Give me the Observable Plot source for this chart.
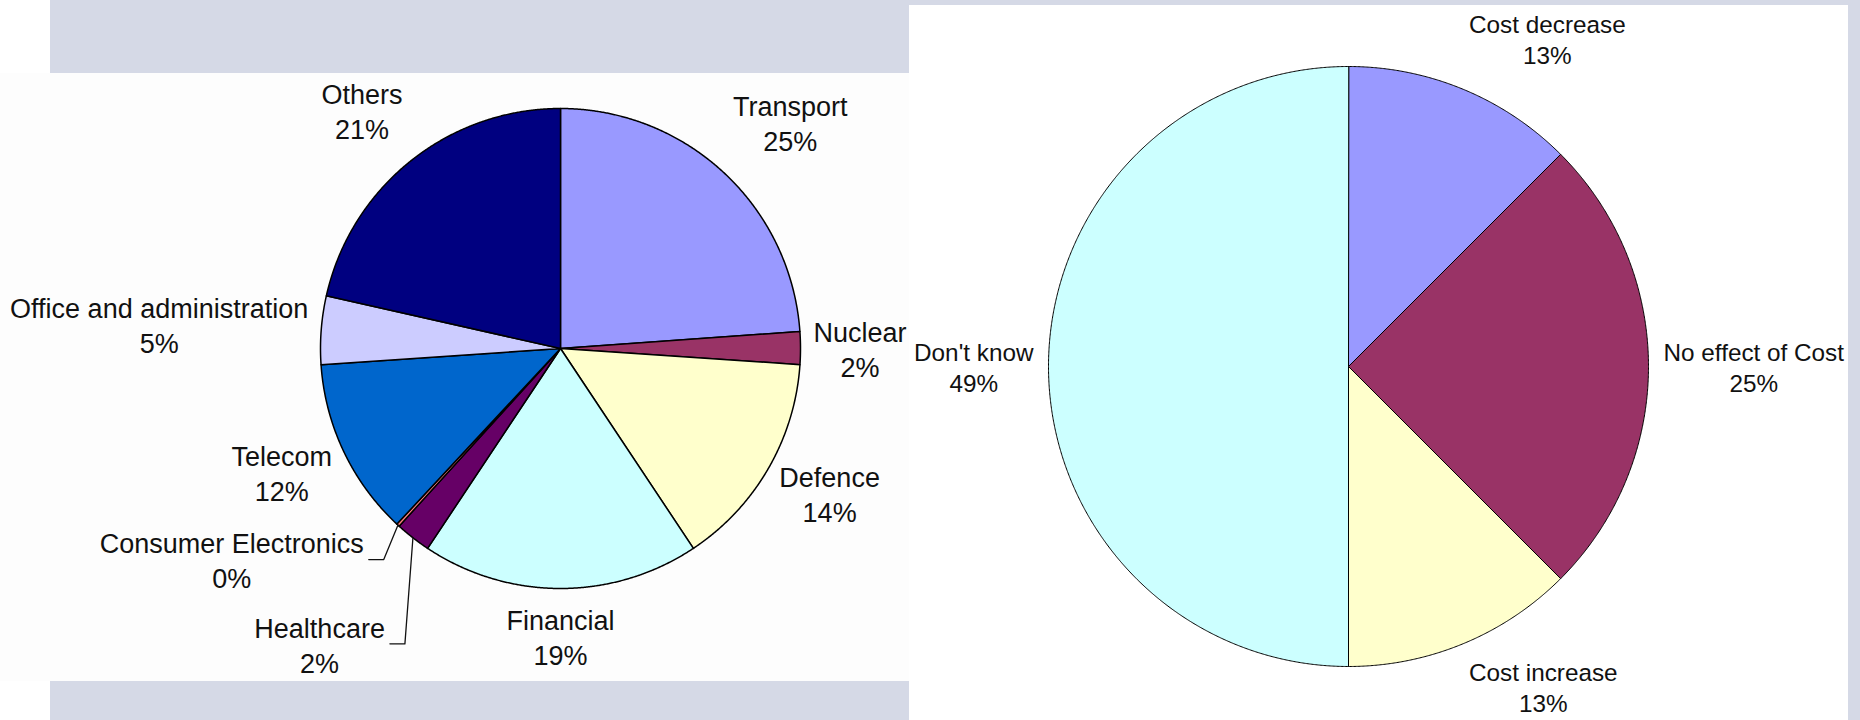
<!DOCTYPE html>
<html>
<head>
<meta charset="utf-8">
<script src="https://cdn.jsdelivr.net/npm/d3@7"></script>
<script src="https://cdn.jsdelivr.net/npm/@observablehq/plot@0.6"></script>
<style>
  html, body { margin: 0; padding: 0; background: #fff; }
  #page { position: relative; width: 1860px; height: 720px; overflow: hidden; background: #fff; }
  #band { position: absolute; left: 50px; top: 0; width: 1810px; height: 720px; background: #d5d9e6; }
  #left { position: absolute; left: 0; top: 73px; width: 909px; height: 608px; background: #fdfdfd; }
  #right { position: absolute; left: 909px; top: 5px; width: 939px; height: 715px; background: #fff; }
  #left svg, #right svg { position: absolute; left: 0; top: 0; }
</style>
</head>
<body>
<div id="page">
  <div id="band"></div>
  <div id="left"></div>
  <div id="right"></div>
</div>
<script>
// ---------- data: sectors (left pie) ----------
const sectorNames = ["Transport", "Nuclear", "Defence", "Financial", "Healthcare",
  "Consumer Electronics", "Telecom", "Office and administration", "Others"];
const sectorShares = [23.9, 2.2, 14.6, 18.7, 2.4, 0.2, 12.0, 4.6, 21.5];
const sectorPercentLabels = ["25%", "2%", "14%", "19%", "2%", "0%", "12%", "5%", "21%"];
const sectorColors = ["#9999ff", "#993366", "#ffffcc", "#ccffff", "#660066",
  "#ff8080", "#0066cc", "#ccccff", "#000080"];

// ---------- data: cost effect (right pie) ----------
const costNames = ["Cost decrease", "No effect of Cost", "Cost increase", "Don't know"];
const costShares = [12.5, 25, 12.5, 50];
const costPercentLabels = ["13%", "25%", "13%", "49%"];
const costColors = ["#9999ff", "#993366", "#ffffcc", "#ccffff"];

// ---------- layout (not data) ----------
const FONT = "'Liberation Sans', Arial, sans-serif";
// labels that were dragged away from the pie and carry a leader line (polar: degrees clockwise from 12 o'clock, distance in radii)
const draggedLabels = {
  "Consumer Electronics": {angle: 237.3, dist: 1.628},
  "Healthcare": {angle: 219.2, dist: 1.588}
};

const canvas = document.createElement("canvas");
const ctx = canvas.getContext("2d");
function textWidth(str, size) {
  ctx.font = `${size}px "Liberation Sans", Arial, sans-serif`;
  return ctx.measureText(str).width;
}

function pieSlices(names, shares) {
  const total = d3.sum(shares);
  let acc = 0;
  return names.map((name, i) => {
    const a0 = acc / total * 2 * Math.PI;
    acc += shares[i];
    const a1 = acc / total * 2 * Math.PI;
    return {name, i, a0, a1, mid: (a0 + a1) / 2};
  });
}

function slicePolygon(s) {
  const pts = [{name: s.name, x: 0, y: 0}];
  const n = Math.max(2, Math.ceil((s.a1 - s.a0) / (Math.PI / 720)));
  for (let k = 0; k <= n; k++) {
    const a = s.a0 + (s.a1 - s.a0) * k / n;
    pts.push({name: s.name, x: Math.sin(a), y: Math.cos(a)});
  }
  return pts;
}

function drawPie({el, names, shares, pcts, colors, width, height, mL, mR, mT, mB, rPx, fontSize, lineStep, gapPx, strokeWidth}) {
  const slices = pieSlices(names, shares);
  const polys = slices.flatMap(slicePolygon);
  const labels = [];
  const leaders = [];
  slices.forEach((s, i) => {
    const text = names[i] + "\n" + pcts[i];
    const w = Math.max(textWidth(names[i], fontSize), textWidth(pcts[i], fontSize));
    const h = 2 * lineStep;
    const sa = Math.sin(s.mid), ca = Math.cos(s.mid);
    if (draggedLabels[names[i]]) {
      const d = draggedLabels[names[i]];
      const ang = d.angle * Math.PI / 180;
      const cx = d.dist * Math.sin(ang), cy = d.dist * Math.cos(ang);
      labels.push({x: cx, y: cy, text});
      const right = cx + w / 2 / rPx;
      leaders.push({id: names[i], x: sa, y: ca});
      leaders.push({id: names[i], x: right + 20 / rPx, y: cy});
      leaders.push({id: names[i], x: right + 5 / rPx, y: cy});
    } else {
      const q = 1 + gapPx / rPx;
      const sx = Math.sign(sa) * Math.min(1, 3 * Math.abs(sa));
      const sy = ca > 0 ? Math.min(1, 1.5 * ca) : ca;
      const half = ca > 0 ? h / 2 + 6 : h / 2;
      labels.push({
        x: q * sa + sx * w / 2 / rPx,
        y: q * ca + sy * half / rPx,
        text
      });
    }
  });
  const svg = Plot.plot({
    width, height,
    marginLeft: mL, marginRight: mR, marginTop: mT, marginBottom: mB,
    x: {domain: [-1, 1], axis: null},
    y: {domain: [-1, 1], axis: null},
    color: {domain: names, range: colors},
    style: {background: "transparent", overflow: "visible", fontFamily: FONT},
    marks: [
      Plot.line(polys, {x: "x", y: "y", z: "name", fill: "name", stroke: "#000",
        strokeWidth, curve: "linear-closed", strokeLinejoin: "round"}),
      Plot.line(leaders, {x: "x", y: "y", z: "id", stroke: "#111", strokeWidth: 1.3, fill: "none"}),
      Plot.text(labels, {x: "x", y: "y", text: "text", fontSize, lineHeight: lineStep / fontSize,
        fill: "#111", fontFamily: FONT})
    ]
  });
  document.getElementById(el).appendChild(svg);
}

drawPie({
  el: "left", names: sectorNames, shares: sectorShares, pcts: sectorPercentLabels, colors: sectorColors,
  width: 909, height: 608, mL: 320, mR: 109, mT: 35, mB: 93, rPx: 240,
  fontSize: 27, lineStep: 35, gapPx: 13, strokeWidth: 1.5
});
drawPie({
  el: "right", names: costNames, shares: costShares, pcts: costPercentLabels, colors: costColors,
  width: 939, height: 715, mL: 139, mR: 200, mT: 61, mB: 54, rPx: 300,
  fontSize: 24.3, lineStep: 31, gapPx: 15, strokeWidth: 1
});
</script>
</body>
</html>
